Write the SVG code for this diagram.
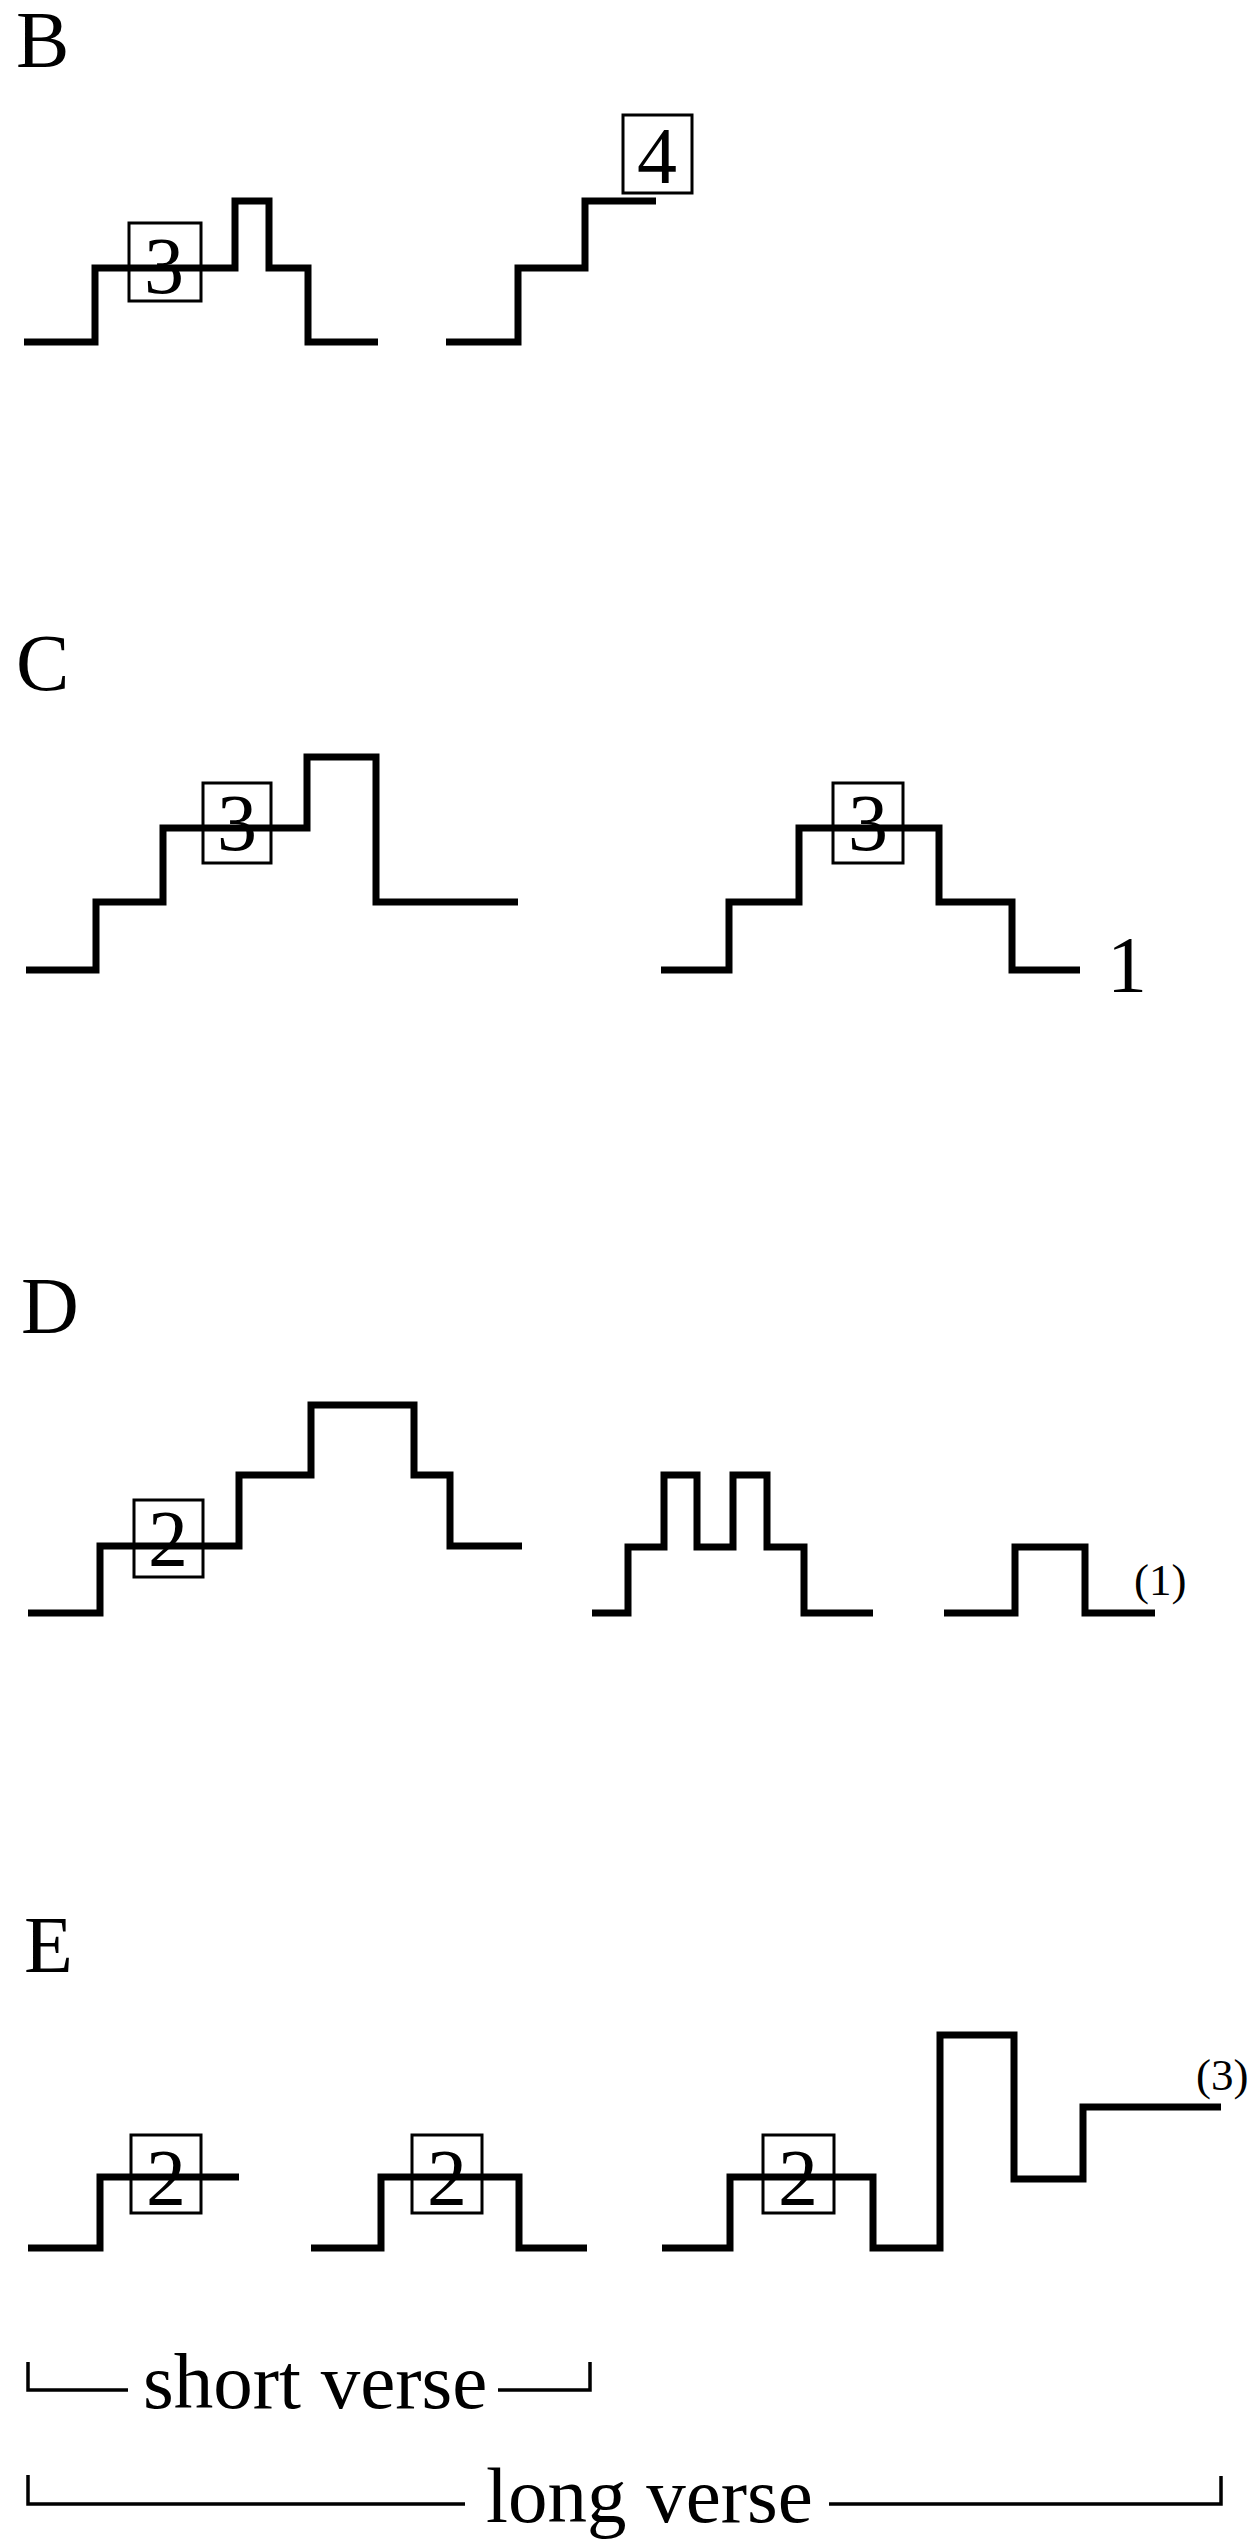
<svg xmlns="http://www.w3.org/2000/svg" width="1249" height="2543" viewBox="0 0 1249 2543">
<style>
  .contour { fill: none; stroke: #000; stroke-width: 7; stroke-linecap: butt; stroke-linejoin: miter; }
  .box { fill: none; stroke: #000; stroke-width: 3; }
  .bracket { fill: none; stroke: #000; stroke-width: 3.5; }
  .t { font-family: "Liberation Serif", "Times New Roman", serif; fill: #000; }
  .big { font-size: 80px; }
  .num { font-size: 80px; text-anchor: middle; }
  .small { font-size: 45px; }
  .lbl { font-size: 79px; }
</style>
<rect x="0" y="0" width="1249" height="2543" fill="#fff"/>

<g id="section-B">
  <text class="t big" x="16" y="67">B</text>
  <g id="B-contour-1">
    <path class="contour" d="M24,342 H95 V268 H235 V201 H269 V268 H308 V342 H378"/>
    <rect class="box" x="129" y="223" width="72" height="78"/>
    <text class="t num" x="164" y="293">3</text>
  </g>
  <g id="B-contour-2">
    <path class="contour" d="M446,342 H518 V268 H585 V201 H656"/>
    <rect class="box" x="623" y="115" width="69" height="78"/>
    <text class="t num" x="657" y="183">4</text>
  </g>
</g>

<g id="section-C">
  <text class="t big" x="16" y="690">C</text>
  <g id="C-contour-1">
    <path class="contour" d="M26,970 H96 V902 H163 V828 H307 V757 H376 V902 H518"/>
    <rect class="box" x="203" y="783" width="68" height="80"/>
    <text class="t num" x="237" y="850">3</text>
  </g>
  <g id="C-contour-2">
    <path class="contour" d="M661,970 H729 V902 H799 V828 H939 V902 H1012 V970 H1080"/>
    <rect class="box" x="833" y="783" width="70" height="80"/>
    <text class="t num" x="868" y="850">3</text>
    <text class="t num" x="1127" y="992">1</text>
  </g>
</g>

<g id="section-D">
  <text class="t big" x="21" y="1333">D</text>
  <g id="D-contour-1">
    <path class="contour" d="M28,1613 H100 V1546 H239 V1475 H311 V1405 H414 V1475 H450 V1546 H522"/>
    <rect class="box" x="134" y="1500" width="69" height="77"/>
    <text class="t num" x="168" y="1566">2</text>
  </g>
  <g id="D-contour-2">
    <path class="contour" d="M592,1613 H628 V1547 H664 V1475 H697 V1547 H733 V1475 H767 V1547 H804 V1613 H873"/>
  </g>
  <g id="D-contour-3">
    <path class="contour" d="M944,1613 H1015 V1547 H1085 V1613 H1155"/>
    <text class="t small" x="1134" y="1595">(1)</text>
  </g>
</g>

<g id="section-E">
  <text class="t big" x="24" y="1972">E</text>
  <g id="E-contour-1">
    <path class="contour" d="M28,2248 H100 V2177 H239"/>
    <rect class="box" x="131" y="2135" width="70" height="78"/>
    <text class="t num" x="166" y="2205">2</text>
  </g>
  <g id="E-contour-2">
    <path class="contour" d="M311,2248 H381 V2177 H519 V2248 H587"/>
    <rect class="box" x="412" y="2135" width="70" height="78"/>
    <text class="t num" x="447" y="2205">2</text>
  </g>
  <g id="E-contour-3">
    <path class="contour" d="M662,2248 H730 V2177 H873 V2248 H940 V2035 H1014 V2179 H1083 V2107 H1221"/>
    <rect class="box" x="763" y="2135" width="71" height="78"/>
    <text class="t num" x="798" y="2205">2</text>
    <text class="t small" x="1196" y="2090">(3)</text>
  </g>
</g>

<g id="connectors">
  <g id="short-verse">
    <path class="bracket" d="M28,2362 V2390 H128"/>
    <path class="bracket" d="M498,2390 H590 V2362"/>
    <text class="t lbl" x="143" y="2408">short verse</text>
  </g>
  <g id="long-verse">
    <path class="bracket" d="M28,2475 V2504 H465"/>
    <path class="bracket" d="M829,2504 H1221 V2476"/>
    <text class="t lbl" x="486" y="2522">long verse</text>
  </g>
</g>
</svg>
